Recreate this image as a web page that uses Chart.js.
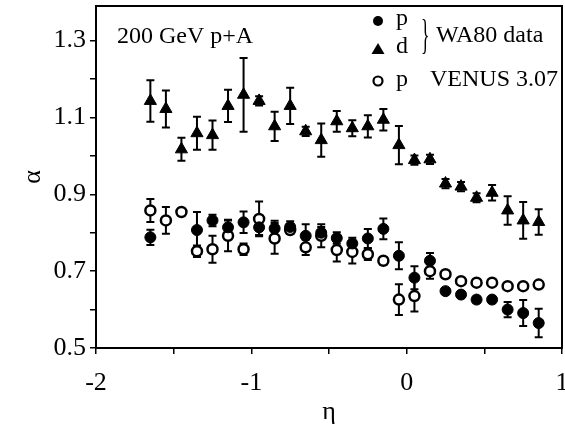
<!DOCTYPE html>
<html><head><meta charset="utf-8">
<script src="https://cdn.jsdelivr.net/npm/chart.js@4/dist/chart.umd.min.js"></script>
<style>html,body{margin:0;padding:0;background:#fff}</style>
</head><body>
<canvas id="c" width="565" height="432"></canvas>
<script>
// ---- data ----
const eta = [-1.65,-1.55,-1.45,-1.35,-1.25,-1.15,-1.05,-0.95,-0.85,-0.75,-0.65,-0.55,-0.45,-0.35,-0.25,-0.15,-0.05,0.05,0.15,0.25,0.35,0.45,0.55,0.65,0.75,0.85];
const pWA80    = [0.788,null,null,0.807,0.832,0.814,0.827,0.814,0.811,0.815,0.792,0.800,0.786,0.772,0.785,0.810,0.740,0.683,0.727,0.648,0.639,0.626,0.626,0.600,0.591,0.565];
const pWA80Err = [0.020,null,null,0.047,0.015,0.020,0.028,0.020,0.020,0.015,0.030,0.015,0.015,0.015,0.025,0.027,0.035,0.030,0.020,0.008,0.008,0.008,0.008,0.020,0.034,0.037];
const dWA80    = [1.143,1.122,1.017,1.059,1.054,1.130,1.159,1.143,1.077,1.130,1.064,1.041,1.090,1.072,1.077,1.094,1.028,0.989,0.991,0.928,0.920,0.891,0.904,0.858,0.832,0.828];
const dWA80Err = [0.054,0.048,0.030,0.043,0.038,0.042,0.096,0.012,0.038,0.047,0.012,0.043,0.027,0.021,0.029,0.028,0.050,0.012,0.012,0.012,0.012,0.012,0.020,0.037,0.048,0.033];
const pVenus    = [0.858,0.832,0.854,0.752,0.757,0.792,0.757,0.836,0.785,0.807,0.762,0.792,0.755,0.750,0.744,0.727,0.626,0.635,0.700,0.692,0.674,0.670,0.670,0.661,0.661,0.665];
const pVenusErr = [0.030,0.035,0.008,0.015,0.035,0.040,0.015,0.045,0.040,0.010,0.020,0.030,0.030,0.030,0.015,0.010,0.040,0.040,0.020,0.000,0.000,0.000,0.000,0.000,0.000,0.000];
const xTicks = [-2,-1.5,-1,-0.5,0,0.5,1];
const xMajor = [-2,-1,0,1];
const yTicks = [0.5,0.6,0.7,0.8,0.9,1.0,1.1,1.2,1.3];
const yMajor = [0.5,0.7,0.9,1.1,1.3];
const xMin = -2, xMax = 1, yMin = 0.5, yMax = 1.39;

function pts(vals, errs){
  const out = [];
  eta.forEach((x,i)=>{ if (vals[i] !== null) out.push({x:x, y:vals[i], e:errs[i]}); });
  return out;
}

const serif = "'Liberation Serif', 'DejaVu Serif', serif";

const errorBars = {
  id:'errorBars',
  beforeDatasetsDraw(chart){
    const ctx = chart.ctx, ys = chart.scales.y;
    ctx.save();
    ctx.strokeStyle = '#000';
    ctx.lineWidth = 2;
    chart.data.datasets.forEach((ds, di)=>{
      const meta = chart.getDatasetMeta(di);
      meta.data.forEach((el, i)=>{
        const d = ds.data[i];
        if (!d.e) return;
        const x = el.x;
        const y1 = ys.getPixelForValue(d.y + d.e);
        const y2 = ys.getPixelForValue(d.y - d.e);
        ctx.beginPath();
        ctx.moveTo(x, y1); ctx.lineTo(x, y2);
        ctx.moveTo(x-4, y1); ctx.lineTo(x+4, y1);
        ctx.moveTo(x-4, y2); ctx.lineTo(x+4, y2);
        ctx.stroke();
      });
    });
    ctx.restore();
  }
};

const frameAndText = {
  id:'frameAndText',
  afterDraw(chart){
    const ctx = chart.ctx, a = chart.chartArea;
    ctx.save();
    ctx.strokeStyle = '#000';
    ctx.lineWidth = 2;
    ctx.strokeRect(a.left, a.top, a.right - a.left, a.bottom - a.top);
    ctx.fillStyle = '#000';
    ctx.textBaseline = 'middle';
    ctx.textAlign = 'left';
    ctx.font = "24px " + serif;
    ctx.fillText('200 GeV p+A', 117, 37);
    // legend
    ctx.beginPath(); ctx.arc(378, 21, 5, 0, Math.PI*2); ctx.fill();
    ctx.beginPath(); ctx.moveTo(378, 43); ctx.lineTo(384.5, 54); ctx.lineTo(371.5, 54); ctx.closePath(); ctx.fill();
    ctx.lineWidth = 2.2;
    ctx.beginPath(); ctx.arc(378, 81, 4.5, 0, Math.PI*2); ctx.stroke();
    ctx.font = "24px " + serif;
    ctx.fillText('p', 396, 19);
    ctx.fillText('d', 396, 47);
    ctx.fillText('p', 396, 80);
    ctx.fillText('WA80 data', 436, 36);
    ctx.fillText('VENUS 3.07', 430, 80);
    ctx.save();
    ctx.translate(421, 37);
    ctx.scale(0.42, 1);
    ctx.font = "42px " + serif;
    ctx.fillText('}', 0, 0);
    ctx.restore();
    ctx.restore();
  }
};

new Chart(document.getElementById('c'), {
  type:'scatter',
  data:{ datasets:[
    { label:'p WA80', data: pts(pWA80, pWA80Err), pointStyle:'circle', pointRadius:5.5,
      backgroundColor:'#000', borderColor:'#000', borderWidth:1 },
    { label:'p VENUS 3.07', data: pts(pVenus, pVenusErr), pointStyle:'circle', pointRadius:5,
      backgroundColor:'#fff', borderColor:'#000', borderWidth:2.5 },
    { label:'d WA80', data: pts(dWA80, dWA80Err), pointStyle:'triangle', pointRadius:7,
      backgroundColor:'#000', borderColor:'#000', borderWidth:1 }
  ]},
  options:{
    responsive:false, animation:false, devicePixelRatio:1,
    layout:{ autoPadding:false, padding:{ left:0, right:3, top:6, bottom:0 } },
    plugins:{ legend:{display:false}, tooltip:{enabled:false} },
    scales:{
      x:{ type:'linear', min:xMin, max:xMax,
        afterBuildTicks: s => { s.ticks = xTicks.map(v=>({value:v})); },
        afterFit: s => { s.height = 84; s.paddingLeft = 0; s.paddingRight = 0; },
        ticks:{ autoSkip:false, maxRotation:0, color:'#000', padding:14,
          font:{ family:serif, size:26 },
          callback: v => xMajor.includes(v) ? String(v) : '' },
        grid:{ drawOnChartArea:false, drawTicks:true, tickLength:6, color:'#000', lineWidth:1.5 },
        border:{ display:true, color:'#000', width:2 },
        title:{ display:true, text:'η', color:'#000', font:{ family:serif, size:26 }, padding:{top:0,bottom:4} }
      },
      y:{ type:'linear', min:yMin, max:yMax,
        afterBuildTicks: s => { s.ticks = yTicks.map(v=>({value:v})); },
        afterFit: s => { s.width = 96; s.paddingTop = 0; s.paddingBottom = 0; },
        ticks:{ autoSkip:false, color:'#000', padding:4,
          font:{ family:serif, size:26 },
          callback: v => yMajor.some(m => Math.abs(m - v) < 1e-6) ? v.toFixed(1) : '' },
        grid:{ drawOnChartArea:false, drawTicks:true, tickLength:6, color:'#000', lineWidth:1.5 },
        border:{ display:true, color:'#000', width:2 },
        title:{ display:true, text:'α', color:'#000', font:{ family:serif, size:26 }, padding:{top:18,bottom:0} }
      }
    }
  },
  plugins:[errorBars, frameAndText]
});
</script>
</body></html>
